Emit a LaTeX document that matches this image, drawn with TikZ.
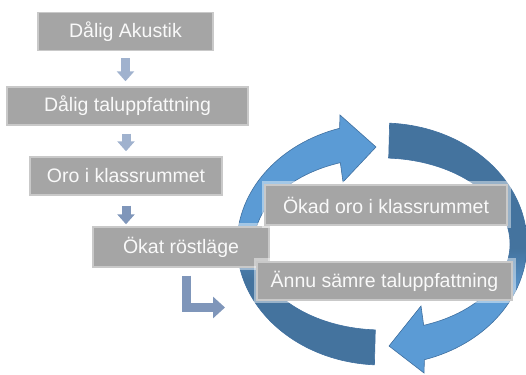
\documentclass[tikz,border=0pt]{standalone}
\usepackage{fontspec}
\setmainfont{Liberation Sans}
\usetikzlibrary{calc,arrows.meta}

\definecolor{boxgray}{HTML}{A5A5A5}
\definecolor{boxedge}{HTML}{C9C9C9}
\definecolor{flowlight}{HTML}{A0B2CE}
\definecolor{flowdark}{HTML}{7F96BA}
\definecolor{ringlight}{HTML}{5B9BD5}
\definecolor{ringdark}{HTML}{44739E}
\definecolor{ringedge}{HTML}{3F6F9F}

\pgfdeclareverticalshading{ringleft}{100bp}{color(0bp)=(ringdark); color(42bp)=(ringdark); color(54bp)=(ringlight); color(100bp)=(ringlight)}
\pgfdeclareverticalshading{ringright}{100bp}{color(0bp)=(ringlight); color(40bp)=(ringlight); color(50bp)=(ringdark); color(100bp)=(ringdark)}

\tikzset{
  box/.style={draw=boxedge, line width=1.4pt, fill=boxgray, text=white!95!gray,
    inner sep=0pt, minimum height=38pt, font=\fontsize{19.5}{23}\selectfont,
    preaction={draw=white, draw opacity=.45, line width=7pt}},
  flow/.style={line width=9pt, -{Triangle[width=17pt,length=10pt]}},
  ringarrow/.style={draw=ringedge, line width=.6pt},
}

\begin{document}
\begin{tikzpicture}[x=1pt,y=1pt]
    \useasboundingbox (0,0) rectangle (526,374);
    \coordinate (hub) at (382,130);% centre of the loop
    % left half: tail at the bottom, head at the top
    \shade[shading=ringleft, ringarrow] ($(hub)+(267:145 and 121)$)
        arc[start angle=267, end angle=107, x radius=145, y radius=121]
        -- (340,259) -- (376,227) -- (343,192) -- ($(hub)+(109:128 and 86)$)
        arc[start angle=109, end angle=267, x radius=128, y radius=86] -- cycle;
    % right half: tail at the top, head at the bottom
    \shade[shading=ringright, ringarrow] ($(hub)+(87:145 and 121)$)
        arc[start angle=87, end angle=-73, x radius=145, y radius=121]
        -- (424,1) -- (389,28) -- (421,68) -- ($(hub)+(-71:128 and 86)$)
        arc[start angle=-71, end angle=87, x radius=128, y radius=86] -- cycle;

    \node[box, minimum width=175pt] (akustik) at (125.5,342.5) {Dålig Akustik};
    \node[box, minimum width=241pt] (talupp) at (127.5,268) {Dålig taluppfattning};
    \node[box, minimum width=192pt] (oro) at (126,198) {Oro i klassrummet};
    \node[box, minimum width=176pt, minimum height=40pt] (roest) at (181,127) {Ökat röstläge};
    \node[box, minimum width=242pt, minimum height=40pt] (okadoro) at (386,169) {Ökad oro i klassrummet};
    \node[box, minimum width=255pt] (saemre) at (384.5,93) {Ännu sämre taluppfattning};

    \draw[flow, flowlight, shorten <=7pt, shorten >=5pt] (akustik.south) -- (akustik.south |- talupp.north);
    \draw[flow, flowlight, shorten <=8pt, shorten >=5pt] (talupp.south -| oro.north) -- (oro.north);
    \draw[flow, flowdark, shorten <=10pt, shorten >=2pt] (oro.south) -- (oro.south |- roest.north);
    \coordinate (bendtip) at (225,66.5);
    \draw[flow, flowdark, shorten <=8pt, -{Triangle[width=21pt,length=12pt]}]
        ([xshift=5.5pt]roest.south) |- (bendtip);
\end{tikzpicture}
\end{document}
